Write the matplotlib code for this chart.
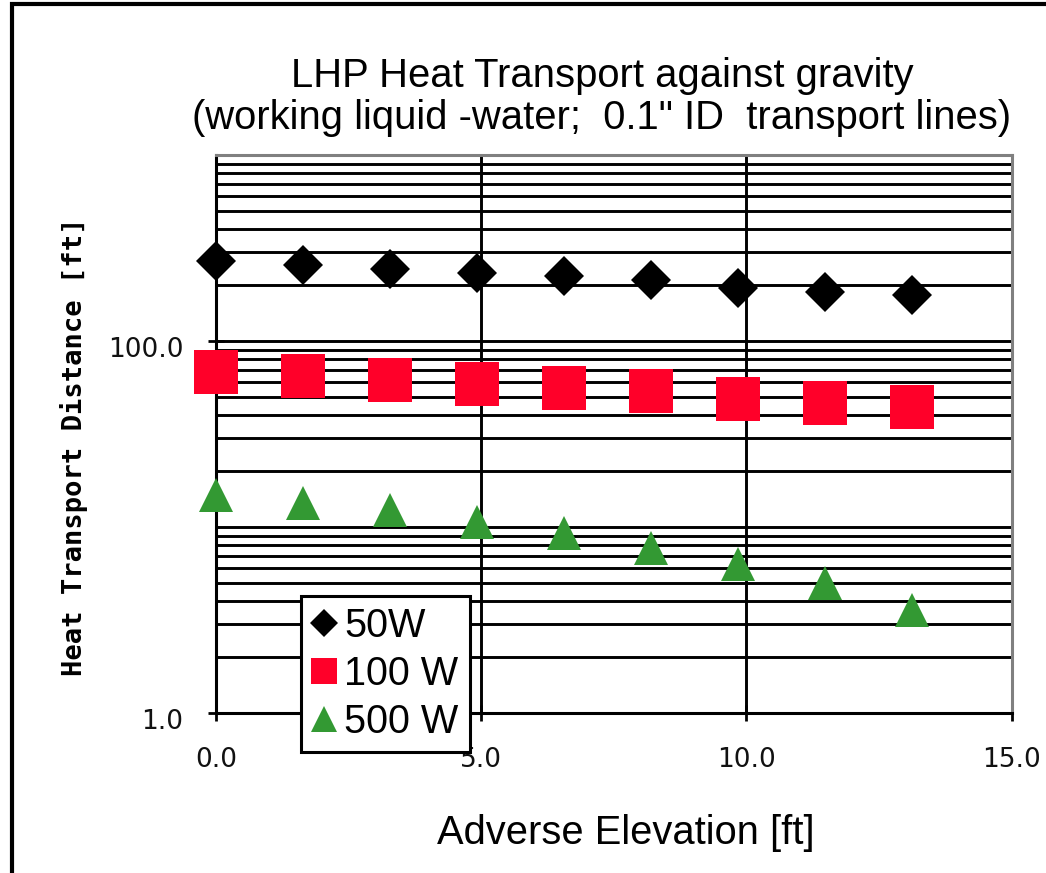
import matplotlib
matplotlib.use("Agg")
import matplotlib.pyplot as plt
from matplotlib.patches import Rectangle
from matplotlib.ticker import NullFormatter
from matplotlib.transforms import ScaledTranslation

# adverse elevation in ft (0.5 m steps)
elevation_ft = [0.0, 1.64, 3.28, 4.92, 6.56, 8.2, 9.84, 11.48, 13.12]

# heat transport distance in ft
dist_50w = [268, 256, 245, 232, 223, 212, 193, 184, 176]
dist_100w = [67.9, 64.8, 62.0, 58.9, 56.1, 53.6, 48.7, 46.5, 44.4]
dist_500w = [14.9, 13.5, 12.3, 10.7, 9.3, 7.7, 6.35, 5.0, 3.6]

series_labels = ["50W", "100 W", "500 W"]

x_ticks = [0, 5, 10, 15]
x_tick_labels = ["0.0", "5.0", "10.0", "15.0"]
y_ticks = [1, 100]
y_tick_labels = ["1.0", "100.0"]
y_grid = [k * 10 ** d for d in range(3) for k in range(2, 10)] + [10]

red = "#FF0029"
green = "#339933"

fig = plt.figure(figsize=(10.46, 8.73), dpi=100)
fig.patches.append(Rectangle((12 / 1046, -0.1), 1.2, 1.1 - 4 / 873,
                             transform=fig.transFigure, fill=False,
                             edgecolor="black", linewidth=3))

ax = fig.add_axes([216 / 1046, 160 / 873, 795.7 / 1046, 558 / 873])
ax.set_yscale("log")

ax.plot(elevation_ft, dist_50w, "D", color="black", ms=20.5, mew=0,
        label=series_labels[0], clip_on=False, zorder=3)
ax.plot(elevation_ft, dist_100w, "s", color=red, ms=31, mew=0,
        label=series_labels[1], clip_on=False, zorder=3)
ax.plot(elevation_ft, dist_500w, "^", color=green, ms=25, mew=0,
        label=series_labels[2], clip_on=False, zorder=3)

ax.set_xlim(0, 15)
ax.set_ylim(1, 1000)
ax.set_xticks(x_ticks, x_tick_labels)
ax.set_yticks(y_ticks, y_tick_labels)
ax.set_yticks(y_grid, minor=True)
ax.yaxis.set_minor_formatter(NullFormatter())
ax.tick_params(which="minor", length=0)
ax.tick_params(which="major", direction="inout", length=11, width=2,
               color="black", labelsize=19, labelcolor="#111111")
ax.tick_params(axis="x", pad=19)
ax.tick_params(axis="y", pad=18)
for lab in ax.get_yticklabels():
    lab.set_transform(lab.get_transform() +
                      ScaledTranslation(0, -4 / 72, fig.dpi_scale_trans))

ax.grid(which="both", axis="y", color="black", linewidth=2.1)
ax.grid(which="major", axis="x", color="black", linewidth=2.1)

for side in ["top", "right"]:
    ax.spines[side].set_color("#808080")
    ax.spines[side].set_linewidth(2.2)
for side in ["left", "bottom"]:
    ax.spines[side].set_color("black")
    ax.spines[side].set_linewidth(2.2)

ax.set_xlabel("Adverse Elevation [ft]", family="Liberation Sans", fontsize=28.7)
ax.xaxis.set_label_coords(0.515, -0.215)
ax.xaxis.label.set_verticalalignment("center")

ax.set_ylabel("Heat Transport Distance [ft]", family="DejaVu Sans Mono",
              fontweight="bold", fontsize=19.5)
ax.yaxis.set_label_coords(-0.178, 0.478)
ax.yaxis.label.set_verticalalignment("center")

fig.text(602 / 1046, 1 - 87 / 873, "LHP Heat Transport against gravity",
         family="Liberation Sans", fontsize=28.8, ha="center", va="baseline")
fig.text(602 / 1046, 1 - 129 / 873,
         "(working liquid -water;  0.1\" ID  transport lines)",
         family="Liberation Sans", fontsize=28.8, ha="center", va="baseline")

leg = ax.legend(loc="lower left", bbox_to_anchor=(300.7 / 1046, 121.3 / 873),
                bbox_transform=fig.transFigure, borderaxespad=0,
                prop={"family": "Liberation Sans", "size": 28.5},
                frameon=True, fancybox=False, framealpha=1, edgecolor="black",
                borderpad=0.28, labelspacing=0.25, handlelength=0.6,
                handletextpad=0.22)
leg.get_frame().set_linewidth(2.2)
leg.set_zorder(5)
for h, ms in zip(leg.legend_handles, [14.5, 19.4, 19.4]):
    h.set_markersize(ms)

fig.savefig("out.png", dpi=100)
